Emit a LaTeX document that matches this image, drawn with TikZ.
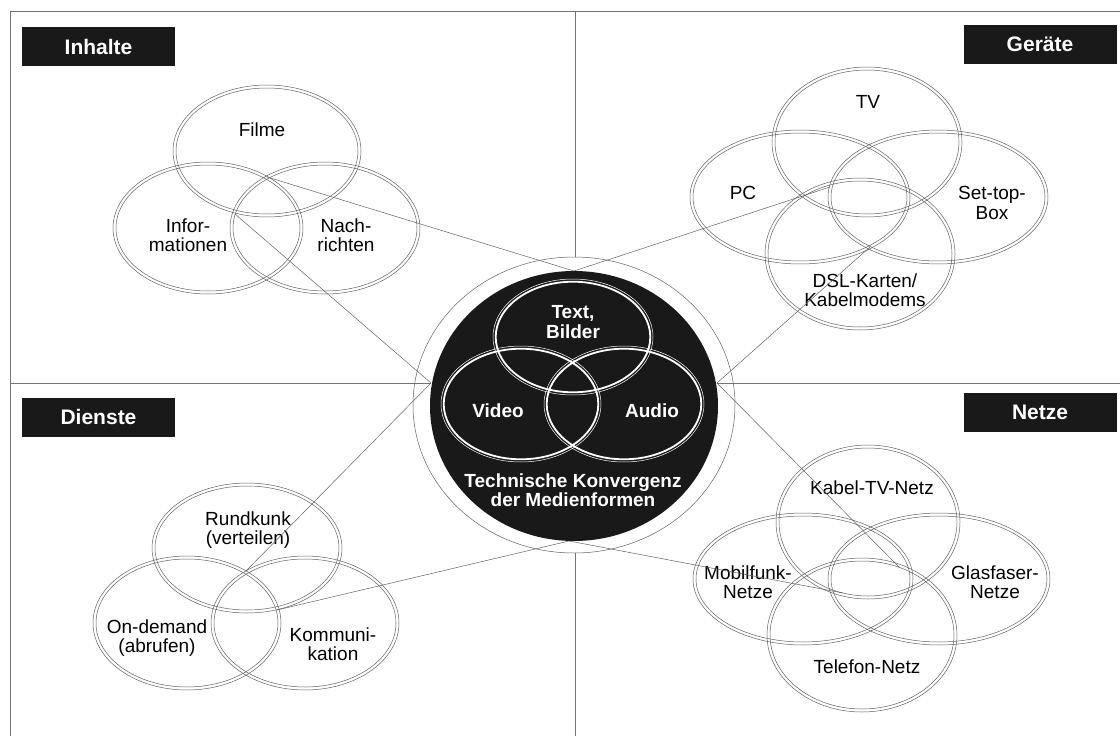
\documentclass[tikz,border=0pt]{standalone}
\usepackage{fontspec}
\setmainfont{Liberation Sans}
% double outline ellipse: centre x, centre y, x radius, y radius
\newcommand\ringell[4]{%
  \draw[vline] (#1,#2) ellipse [x radius=#3, y radius=#4];
  \pgfmathsetmacro\rix{#3-3}\pgfmathsetmacro\riy{#4-3}%
  \draw[vline] (#1,#2) ellipse [x radius=\rix, y radius=\riy];}
% white double outline inside the dark disc
\newcommand\whiteell[2]{%
  \draw[white, line width=0.5pt] (#1,#2) ellipse [x radius=80, y radius=58];
  \draw[white, line width=1.8pt] (#1,#2) ellipse [x radius=77.3, y radius=55.3];}
\begin{document}
\begin{tikzpicture}[x=1pt,y=-1pt,
  frame/.style={draw=black!55, line width=0.8pt},
  vline/.style={draw=black!62, line width=0.5pt},
  link/.style={draw=black!62, line width=0.5pt},
  tag/.style={fill=black!90, text=white, font=\fontsize{21}{22}\selectfont\bfseries,
    minimum width=153pt, minimum height=39pt, inner sep=0pt},
  lbl/.style={font=\fontsize{19}{19.5}\selectfont, align=center, inner sep=0pt},
  wlbl/.style={font=\fontsize{19}{19.5}\selectfont\bfseries, text=white, align=center, inner sep=0pt},
]
\useasboundingbox (0,0) rectangle (1120,736);

% anchor points on the dark disc
\coordinate (cT) at (574,271);
\coordinate (cL) at (431,383);
\coordinate (cR) at (717,383);
\coordinate (cB) at (569,541);

% frame and quadrant dividers
\draw[frame] (1120,11) -- (10,11) -- (10,736);
\draw[frame] (575,11) -- (575,257);
\draw[frame] (575,553) -- (575,736);
\draw[frame] (10,383) -- (cL);
\draw[frame] (cR) -- (1120,383);

% quadrant titles
\node[tag] (tInhalte) at (98.5,46.5) {Inhalte};
\node[tag] (tGeraete) at (1040,44.5) {Geräte};
\node[tag] (tDienste) at (98.5,417) {Dienste};
\node[tag] (tNetze) at (1040,412.5) {Netze};

% Inhalte
\ringell{267}{151}{94}{66}
\ringell{208}{228}{95}{66}
\ringell{325}{228}{95}{66}
\node[lbl] (filme) at (262,130) {Filme};
\node[lbl] (info) at (188,235) {Infor-\\mationen};
\node[lbl] (nach) at (346,235) {Nach-\\richten};

% Geräte
\ringell{867}{142}{95}{75}
\ringell{800}{197}{110}{67}
\ringell{938}{197}{110}{67}
\ringell{860}{254}{95}{76}
\node[lbl] (tv) at (868,102) {TV};
\node[lbl] (pc) at (743,193) {PC};
\node[lbl] (stb) at (992,203) {Set-top-\\Box};
\node[lbl] (dsl) at (865,290) {DSL-Karten/\\Kabelmodems};

% Netze
\ringell{868}{522}{92}{77}
\ringell{803}{579}{110}{66}
\ringell{939}{579}{111}{66}
\ringell{862}{635}{95}{77}
\node[lbl] (kabel) at (872,488) {Kabel-TV-Netz};
\node[lbl] (mobil) at (748,582) {Mobilfunk-\\Netze};
\node[lbl] (glas) at (995,582) {Glasfaser-\\Netze};
\node[lbl] (tele) at (867,667) {Telefon-Netz};

% Dienste
\ringell{247}{548}{95}{65}
\ringell{187}{623}{94}{67}
\ringell{305}{623}{94}{67}
\node[lbl] (rund) at (248,530) {Rundkunk\\(verteilen)};
\node[lbl] (ondem) at (157,638) {On-demand\\(abrufen)};
\node[lbl] (komm) at (333,644) {Kommuni-\\kation};

% central disc
\draw[vline] (574,405) ellipse [x radius=161, y radius=148];
\fill[black!90] (574,406) ellipse [x radius=144, y radius=135];
\whiteell{573}{337}
\whiteell{521}{404}
\whiteell{624}{404}
\node[wlbl] (text) at (573,322) {Text,\\Bilder};
\node[wlbl] (video) at (498,411) {Video};
\node[wlbl] (audio) at (652,411) {Audio};
\node[wlbl] (konv) at (573,490) {Technische Konvergenz\\der Medienformen};

% ends of the connectors in the four groups
\coordinate (iA) at (267,177);
\coordinate (iB) at (235,214);
\coordinate (gA) at (830,187);
\coordinate (gB) at (870,247);
\coordinate (nA) at (900,568);
\coordinate (nB) at (843,593);
\coordinate (dA) at (246,571);
\coordinate (dB) at (277,610);

% connectors
\draw[link] (cT) -- (iA);
\draw[link] (cL) -- (iB);
\draw[link] (cT) -- (gA);
\draw[link] (cR) -- (gB);
\draw[link] (cR) -- (nA);
\draw[link] (cB) -- (nB);
\draw[link] (cB) -- (dB);
\draw[link] (cL) -- (dA);
\end{tikzpicture}
\end{document}
